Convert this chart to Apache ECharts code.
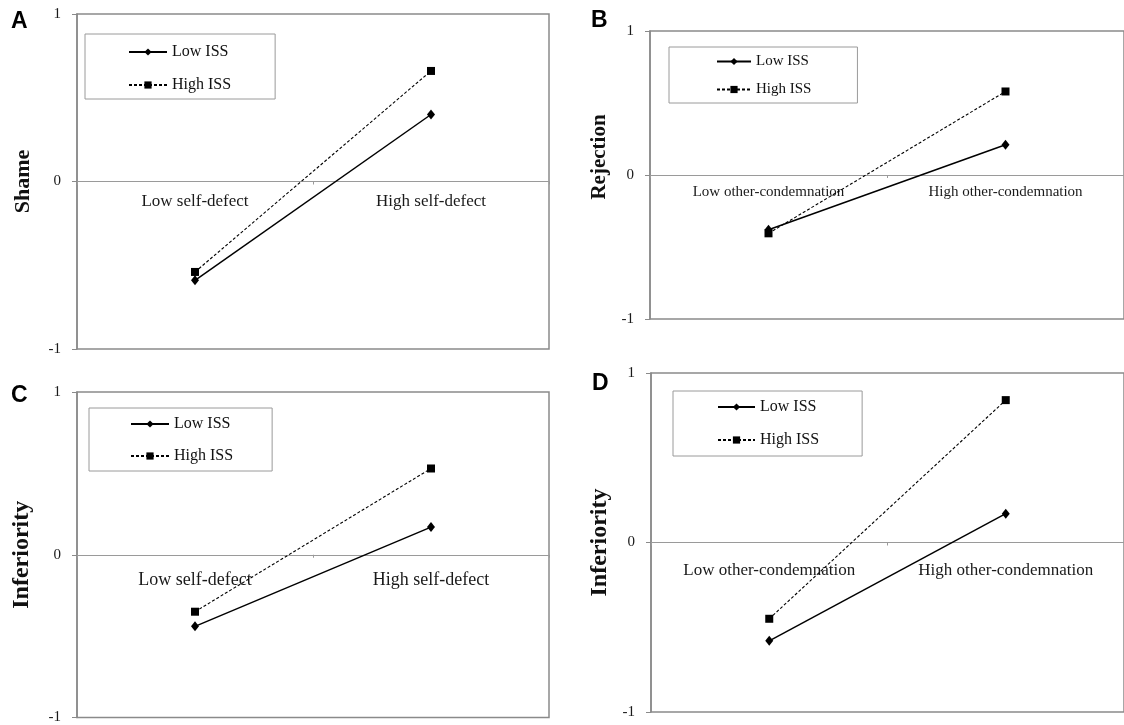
<!DOCTYPE html>
<html>
<head>
<meta charset="utf-8">
<script src="https://cdn.jsdelivr.net/npm/echarts@6/dist/echarts.min.js"></script>
<style>
html,body{margin:0;padding:0;background:#fff;}
#chart{width:1124px;height:725px;}
</style>
</head>
<body>
<div id="chart"></div>
<script>
// ---- data ----
var catSelf = ['Low self-defect', 'High self-defect'];
var catOther = ['Low other-condemnation', 'High other-condemnation'];
var seriesNames = ['Low ISS', 'High ISS'];
var shameLow = [-0.59, 0.40];
var shameHigh = [-0.54, 0.66];
var rejectionLow = [-0.38, 0.21];
var rejectionHigh = [-0.405, 0.58];
var inferiorityCLow = [-0.44, 0.17];
var inferiorityCHigh = [-0.35, 0.53];
var inferiorityDLow = [-0.58, 0.17];
var inferiorityDHigh = [-0.45, 0.84];
var yMin = -1, yMax = 1, yStep = 1;
var panelLetters = ['A', 'B', 'C', 'D'];
var yTitles = ['Shame', 'Rejection', 'Inferiority', 'Inferiority'];

// ---- styling ----
var SERIF = '"Liberation Serif", "Times New Roman", serif';
var SANS = '"Liberation Sans", Arial, sans-serif';
var FRAME = '#8a8a8a';

var panels = [
  {grid:{left:77, top:14, width:472, height:335}, cats:catSelf, low:shameLow, high:shameHigh,
   xFont:17, xOffset:12, nameSize:22, nameGap:43, namePad:0,
   legend:{left:85, top:34, padding:[10,44,6,43], itemWidth:38, itemGap:17, fontSize:16},
   letter:{left:11, top:10}},
  {grid:{left:650, top:31, width:476, height:288}, cats:catOther, low:rejectionLow, high:rejectionHigh,
   xFont:15, xOffset:10, nameSize:21, nameGap:40, namePad:36,
   legend:{left:669, top:47, padding:[7,46,6,47], itemWidth:34, itemGap:13, fontSize:15},
   letter:{left:591, top:9}},
  {grid:{left:77, top:392, width:472, height:326}, cats:catSelf, low:inferiorityCLow, high:inferiorityCHigh,
   xFont:18, xOffset:17, nameSize:24, nameGap:43, namePad:0,
   legend:{left:89, top:408, padding:[8,39,7,41], itemWidth:38, itemGap:16, fontSize:16},
   letter:{left:11, top:384}},
  {grid:{left:651, top:373, width:478, height:339}, cats:catOther, low:inferiorityDLow, high:inferiorityDHigh,
   xFont:17, xOffset:20, nameSize:24, nameGap:39, namePad:0,
   legend:{left:673, top:391, padding:[8,43,8,44], itemWidth:37, itemGap:17, fontSize:16},
   letter:{left:592, top:372}}
];

var option = {
  animation:false,
  backgroundColor:'#ffffff',
  title:[], grid:[], xAxis:[], yAxis:[], legend:[], series:[]
};

panels.forEach(function(p, i){
  option.title.push({
    text: panelLetters[i], left:p.letter.left, top:p.letter.top, padding:0,
    textStyle:{fontFamily:SANS, fontWeight:'bold', fontSize:23, color:'#000'}
  });
  option.grid.push({
    left:p.grid.left, top:p.grid.top, width:p.grid.width, height:p.grid.height,
    show:true, borderColor:FRAME, borderWidth:1.5, backgroundColor:'#fff', containLabel:false
  });
  option.xAxis.push({
    type:'category', gridIndex:i, data:p.cats, boundaryGap:true,
    axisLine:{show:true, onZero:true, lineStyle:{color:'#9a9a9a', width:1.2}},
    axisTick:{show:true, length:3, inside:false, lineStyle:{color:'#9a9a9a'}},
    // labels sit just below the zero line (middle of the grid)
    axisLabel:{interval:0, margin:p.xOffset - p.grid.height / 2, fontFamily:SERIF, fontSize:p.xFont, color:'#1a1a1a'},
    splitLine:{show:false}
  });
  option.yAxis.push({
    type:'value', gridIndex:i, min:yMin, max:yMax, interval:yStep,
    name: yTitles[i], nameLocation:'middle', nameGap:p.nameGap,
    nameTextStyle:{fontFamily:SERIF, fontWeight:'bold', fontSize:p.nameSize, color:'#111',
      padding: p.namePad ? [0,0,0,p.namePad] : 0},
    axisLine:{show:true, lineStyle:{color:FRAME, width:1.5}},
    axisTick:{show:true, length:5, lineStyle:{color:FRAME}},
    axisLabel:{margin:16, fontFamily:SERIF, fontSize:15, color:'#1a1a1a'},
    splitLine:{show:false}
  });
  option.legend.push({
    orient:'vertical', left:p.legend.left, top:p.legend.top, padding:p.legend.padding,
    itemWidth:p.legend.itemWidth, itemHeight:9, itemGap:p.legend.itemGap,
    borderColor:'#9a9a9a', borderWidth:1, backgroundColor:'#fff',
    textStyle:{fontFamily:SERIF, fontSize:p.legend.fontSize, color:'#111'},
    data: seriesNames.slice(),
    selectedMode:false
  });
  option.series.push({
    name: seriesNames[0], type:'line', xAxisIndex:i, yAxisIndex:i, data:p.low,
    symbol:'diamond', symbolSize:[8,10], showSymbol:true,
    lineStyle:{color:'#000', width:1.5, type:'solid'},
    itemStyle:{color:'#000'}, z:3
  });
  option.series.push({
    name: seriesNames[1], type:'line', xAxisIndex:i, yAxisIndex:i, data:p.high,
    symbol:'rect', symbolSize:8, showSymbol:true,
    lineStyle:{color:'#000', width:1.1, type:[3,2]},
    itemStyle:{color:'#000'}, z:3
  });
});

var chart = echarts.init(document.getElementById('chart'), null, {renderer:'canvas'});
chart.setOption(option);
</script>
</body>
</html>
